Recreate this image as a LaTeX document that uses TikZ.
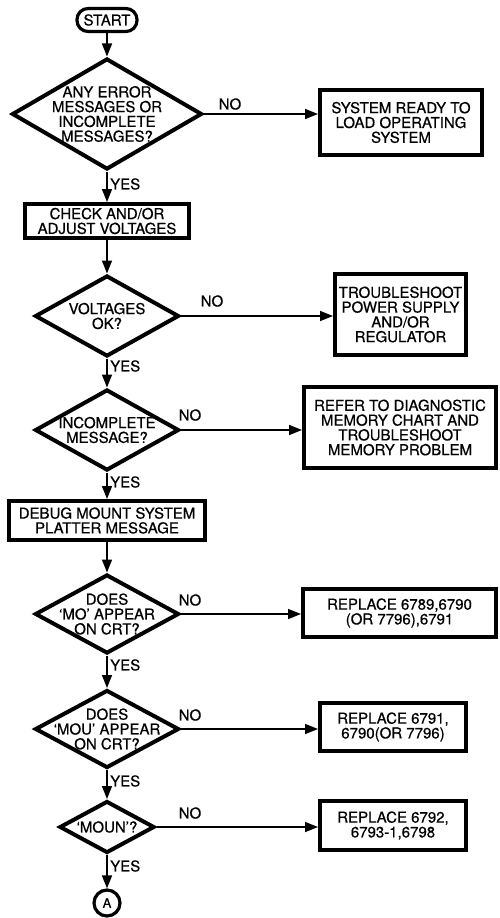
\documentclass[tikz,border=0pt]{standalone}
\usepackage{fontspec}
\setmainfont{TeX Gyre Heros}[FakeBold=0.6]
\usetikzlibrary{shapes.geometric, arrows.meta}

\tikzset{
  terminal/.style={draw, line width=3.2pt, rounded corners=11pt, minimum width=60pt, minimum height=23pt, inner sep=1pt},
  decision/.style={diamond, draw, line width=4pt, inner sep=0pt, minimum width=144pt, minimum height=81pt},
  process/.style={draw, line width=4pt, align=center, inner sep=2pt},
  connector/.style={draw, line width=3.2pt, circle, minimum size=26pt, inner sep=0pt},
  flow/.style={line width=1.5pt, -{Triangle[length=13pt, width=10pt]}},
  answer/.style={inner sep=0pt}
}

\begin{document}
\begin{tikzpicture}[x=1pt, y=-1pt, font=\fontsize{15}{14.8}\selectfont]
  \useasboundingbox (0,0) rectangle (500,918);

  % Start
  \node[terminal] (start) at (107,20) {START};

  % Error messages
  \node[decision, minimum width=190pt, minimum height=111pt,
    label={[align=center]center:ANY ERROR\\MESSAGES OR\\INCOMPLETE\\MESSAGES?}] (errors) at (107,114) {};
  \node[process, minimum width=162pt, minimum height=65pt] (ready) at (401,122.5) {SYSTEM READY TO\\LOAD OPERATING\\SYSTEM};
  \node[answer] (no1) at (230,104) {NO};
  \node[answer, anchor=west] (yes1) at (110,184) {YES};

  % Voltages
  \node[process, minimum width=164pt, minimum height=34pt] (adjust) at (107,221) {CHECK AND/OR\\ADJUST VOLTAGES};
  \node[decision, label={[align=center]center:VOLTAGES\\OK?}] (voltages) at (107,316) {};
  \node[process, minimum width=131pt, minimum height=81pt] (supply) at (400.5,314.5) {TROUBLESHOOT\\POWER SUPPLY\\AND/OR\\REGULATOR};
  \node[answer] (no2) at (212,301) {NO};
  \node[answer, anchor=west] (yes2) at (110,366) {YES};

  % Incomplete message
  \node[decision, label={[align=center]center:INCOMPLETE\\MESSAGE?}] (incomplete) at (107,430) {};
  \node[process, minimum width=192pt, minimum height=81pt] (memory) at (400,427.5) {REFER TO DIAGNOSTIC\\MEMORY CHART AND\\TROUBLESHOOT\\MEMORY PROBLEM};
  \node[answer] (no3) at (190,415) {NO};
  \node[answer, anchor=west] (yes3) at (110,482) {YES};

  % Mount message
  \node[process, minimum width=196pt, minimum height=39pt] (debug) at (107,520.5) {DEBUG MOUNT SYSTEM\\PLATTER MESSAGE};
  \node[decision, minimum height=79pt, label={[align=center]center:DOES\\`MO' APPEAR\\ON CRT?}] (mo) at (107,614) {};
  \node[process, minimum width=193pt, minimum height=48pt] (replacemo) at (399.5,613) {REPLACE 6789,6790\\(OR 7796),6791};
  \node[answer] (no4) at (190,600) {NO};
  \node[answer, anchor=west] (yes4) at (110,665) {YES};

  \node[decision, minimum height=78pt, label={[align=center]center:DOES\\`MOU' APPEAR\\ON CRT?}] (mou) at (107,729) {};
  \node[process, minimum width=146pt, minimum height=48pt] (replacemou) at (393,727) {REPLACE 6791,\\6790(OR 7796)};
  \node[answer] (no5) at (190,715) {NO};
  \node[answer, anchor=west] (yes5) at (110,781) {YES};

  \node[decision, minimum width=95pt, minimum height=52pt, label=center:`MOUN'?] (moun) at (107,827) {};
  \node[process, minimum width=146pt, minimum height=49pt] (replacemoun) at (393,825.5) {REPLACE 6792,\\6793-1,6798};
  \node[answer] (no6) at (190,813) {NO};
  \node[answer, anchor=west] (yes6) at (110,866) {YES};

  % Off page
  \node[connector, font=\fontsize{13}{13}\selectfont] (pagea) at (107,903) {A};

  % Main line
  \draw[flow] (start) -- (errors);
  \draw[flow] (errors) -- (adjust);
  \draw[flow] (adjust) -- (voltages);
  \draw[flow] (voltages) -- (incomplete);
  \draw[flow] (incomplete) -- (debug);
  \draw[flow] (debug) -- (mo);
  \draw[flow] (mo) -- (mou);
  \draw[flow] (mou) -- (moun);
  \draw[flow] (moun) -- (pagea);

  % Branches
  \draw[flow] (errors.east) -- (errors.east -| ready.west);
  \draw[flow] (voltages.east) -- (voltages.east -| supply.west);
  \draw[flow] (incomplete.east) -- (incomplete.east -| memory.west);
  \draw[flow] (mo.east) -- (mo.east -| replacemo.west);
  \draw[flow] (mou.east) -- (mou.east -| replacemou.west);
  \draw[flow] (moun.east) -- (moun.east -| replacemoun.west);
\end{tikzpicture}
\end{document}
